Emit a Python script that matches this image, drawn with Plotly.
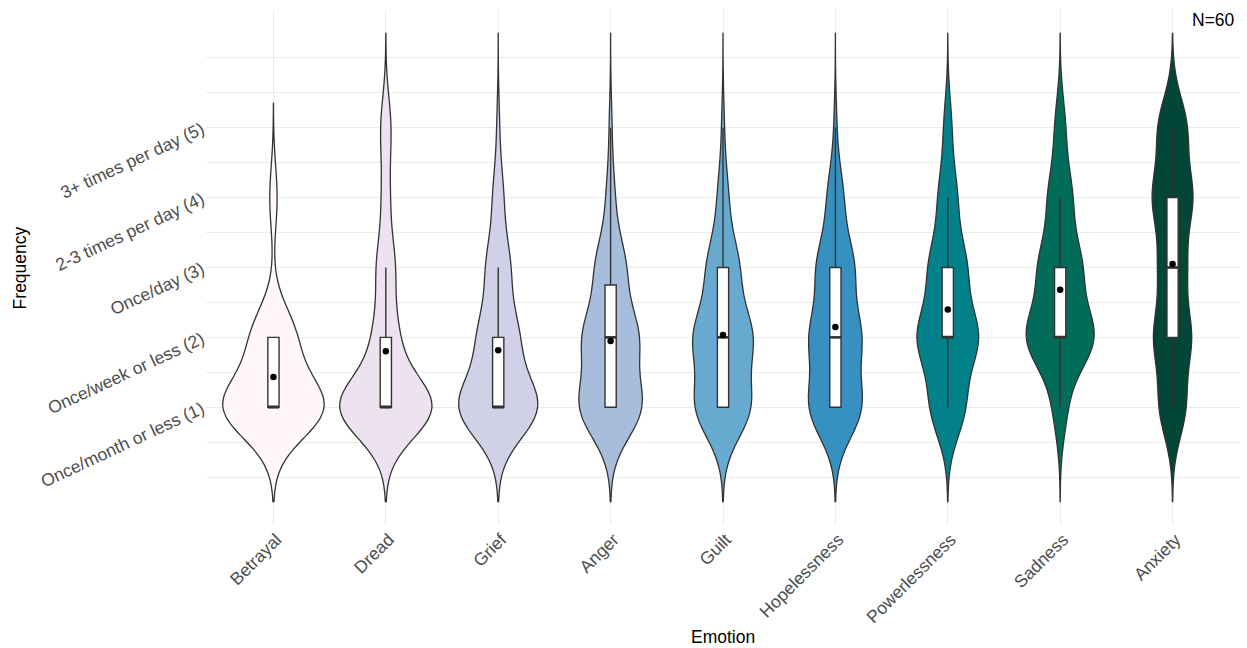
import numpy as np
import plotly.graph_objects as go

# Emotions in display order and the five frequency levels of the survey item
emotions = ["Betrayal", "Dread", "Grief", "Anger", "Guilt",
            "Hopelessness", "Powerlessness", "Sadness", "Anxiety"]
levels = [1, 2, 3, 4, 5]
level_labels = ["Once/month or less (1)", "Once/week or less (2)", "Once/day (3)",
                "2-3 times per day (4)", "3+ times per day (5)"]

# Number of respondents choosing each level (1..5) for every emotion
betrayal = [40, 17, 0, 3, 0]
dread = [37, 9, 7, 3, 4]
grief = [31, 15, 9, 4, 1]
anger = [23, 20, 11, 3, 1]
guilt = [21, 22, 12, 4, 1]
hopelessness = [20, 19, 14, 6, 1]
powerlessness = [13, 23, 14, 7, 3]
sadness = [5, 26, 16, 9, 4]
anxiety = [10, 14, 10, 15, 11]

n_respondents = 60

# PuBuGn sequential palette, one shade per emotion
fill_colors = ["#fff7fb", "#ece2f0", "#d0d1e6", "#a6bddb", "#67a9cf",
               "#3690c0", "#02818a", "#016c59", "#014636"]

counts = [betrayal, dread, grief, anger, guilt, hopelessness,
          powerlessness, sadness, anxiety]
samples = [np.repeat(levels, c).astype(float) for c in counts]

BW = 0.45          # kernel bandwidth
CUT = 3            # tails extend CUT bandwidths beyond the data
BOX_W = 0.1        # boxplot width in category units
OUTLINE = "#333333"
FONT = "Liberation Sans, Arial, sans-serif"
TICK_SIZE = 17.5
TITLE_SIZE = 17.5

fig = go.Figure()

# Violins (equal-area scaling through a shared scale group)
for i, (name, s, col) in enumerate(zip(emotions, samples, fill_colors)):
    fig.add_trace(go.Violin(
        x0=i, y=s, name=name, orientation="v",
        bandwidth=BW, spanmode="manual",
        span=[s.min() - CUT * BW, s.max() + CUT * BW],
        scalegroup="freq", scalemode="width",
        fillcolor=col, line=dict(color=OUTLINE, width=1.3),
        points=False, box_visible=False, meanline_visible=False,
        opacity=1, showlegend=False, hoverinfo="skip",
    ))

# Boxplots (type-7 quartiles, whiskers to the last point within 1.5 IQR)
medians, means = [], []
for i, (name, s) in enumerate(zip(emotions, samples)):
    q1, med, q3 = np.percentile(s, [25, 50, 75])
    iqr = q3 - q1
    lo_f = s[s >= q1 - 1.5 * iqr].min()
    hi_f = s[s <= q3 + 1.5 * iqr].max()
    medians.append(med)
    means.append(s.mean())
    fig.add_trace(go.Box(
        x=[i], q1=[q1], median=[med], q3=[q3],
        lowerfence=[lo_f], upperfence=[hi_f],
        width=BOX_W, fillcolor="white",
        line=dict(color=OUTLINE, width=1.4), whiskerwidth=0,
        boxpoints=False, showlegend=False, hoverinfo="skip", name=name,
    ))

# Thicker median bars
mx, my = [], []
for i, med in enumerate(medians):
    mx += [i - BOX_W / 2, i + BOX_W / 2, None]
    my += [med, med, None]
fig.add_trace(go.Scatter(x=mx, y=my, mode="lines",
                         line=dict(color=OUTLINE, width=2.6),
                         showlegend=False, hoverinfo="skip"))

# Mean markers
fig.add_trace(go.Scatter(x=list(range(len(emotions))), y=means, mode="markers",
                         marker=dict(color="black", size=6.5),
                         showlegend=False, hoverinfo="skip"))

# y range: violin extent plus 5% padding
y_lo = min(s.min() - CUT * BW for s in samples)
y_hi = max(s.max() + CUT * BW for s in samples)
pad = 0.05 * (y_hi - y_lo)

# minor grid every half level, one step beyond the labelled levels
minor_vals = list(np.arange(levels[0] - 1, levels[-1] + 1.01, 0.5))

fig.update_layout(
    width=1247, height=648,
    margin=dict(l=206, r=7, t=10, b=123),
    plot_bgcolor="white", paper_bgcolor="white",
    violinmode="overlay", violingap=0.1, violingroupgap=0,
    boxmode="overlay",
    font=dict(family=FONT, color="#4D4D4D"),
    xaxis=dict(
        range=[-0.6, len(emotions) - 0.4],
        tickmode="array", tickvals=list(range(len(emotions))), ticktext=emotions,
        tickangle=-45, tickfont=dict(size=TICK_SIZE, color="#4D4D4D"),
        ticklabelshift=3,
        showgrid=True, gridcolor="#EBEBEB", gridwidth=1.1,
        zeroline=False, showline=False, ticks="",
    ),
    yaxis=dict(
        range=[y_lo - pad, y_hi + pad],
        tickmode="array", tickvals=levels, ticktext=level_labels,
        tickangle=-25, tickfont=dict(size=TICK_SIZE, color="#4D4D4D"),
        ticklabelstandoff=3,
        showgrid=True, gridcolor="#EBEBEB", gridwidth=1.1,
        minor=dict(tickmode="array", tickvals=minor_vals, showgrid=True,
                   gridcolor="#EBEBEB", gridwidth=0.6),
        zeroline=False, showline=False, ticks="",
    ),
    annotations=[
        dict(text="Emotion", xref="paper", yref="paper", x=0.5, y=-0.2175,
             xanchor="center", yanchor="middle", showarrow=False,
             font=dict(size=TITLE_SIZE, color="black", family=FONT)),
        dict(text="Frequency", xref="paper", yref="paper", x=-0.18, y=0.5,
             xanchor="center", yanchor="middle", textangle=-90, showarrow=False,
             font=dict(size=TITLE_SIZE, color="black", family=FONT)),
        dict(text=f"N={n_respondents}", xref="paper", yref="paper", x=0.997, y=0.98,
             xanchor="right", yanchor="middle", showarrow=False,
             font=dict(size=TITLE_SIZE, color="black", family=FONT)),
    ],
)

fig.write_html("out.html")
